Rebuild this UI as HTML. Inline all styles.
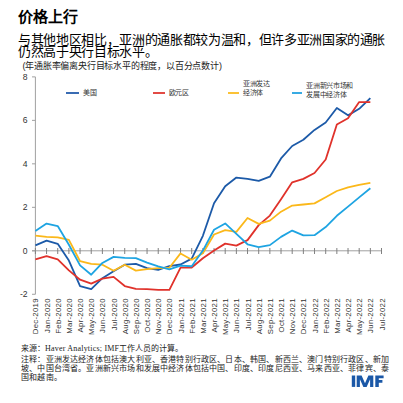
<!DOCTYPE html>
<html lang="zh-CN"><head><meta charset="utf-8"><style>
html,body{margin:0;padding:0;background:#fff;width:403px;height:403px;overflow:hidden}
body{position:relative;font-family:"Liberation Sans",sans-serif;color:#000}
.a{position:absolute;white-space:nowrap}
#title{left:18px;top:7.6px;font-size:15px;font-weight:bold;line-height:18px}
#sub{left:18px;top:33.5px;font-size:13px;letter-spacing:-0.34px;line-height:12.3px;color:#000;font-weight:500}
#unit{left:22.5px;top:60.6px;font-size:9px;letter-spacing:-0.2px;line-height:11px;color:#222}
.leg{font-size:7px;letter-spacing:-0.3px;line-height:8.9px;color:#333}
.ll{position:absolute;height:2px}
.nt{left:21px;font-size:8px;line-height:10px;color:#222;font-weight:500}
#imf{left:350px;top:372px;font-size:15px;font-weight:bold;color:#1f4e9a;letter-spacing:0px}
svg{position:absolute;left:0;top:0}
</style></head><body>
<div class="a" id="title">价格上行</div>
<div class="a" id="sub">与其他地区相比，亚洲的通胀都较为温和，但许多亚洲国家的通胀<br>仍然高于央行目标水平。</div>
<div class="a" id="unit">(年通胀率偏离央行目标水平的程度，以百分点数计)</div>
<svg width="403" height="403" viewBox="0 0 403 403">
<g stroke="#a0a0a0" stroke-width="1" fill="none">
<line x1="35.4" y1="76.9" x2="35.4" y2="294.3"/>
<line x1="32" y1="250.8" x2="381.5" y2="250.8"/>
<line x1="35.40" y1="248" x2="35.40" y2="254" stroke="#808080"/><line x1="46.56" y1="248" x2="46.56" y2="254" stroke="#808080"/><line x1="57.73" y1="248" x2="57.73" y2="254" stroke="#808080"/><line x1="68.89" y1="248" x2="68.89" y2="254" stroke="#808080"/><line x1="80.06" y1="248" x2="80.06" y2="254" stroke="#808080"/><line x1="91.22" y1="248" x2="91.22" y2="254" stroke="#808080"/><line x1="102.39" y1="248" x2="102.39" y2="254" stroke="#808080"/><line x1="113.56" y1="248" x2="113.56" y2="254" stroke="#808080"/><line x1="124.72" y1="248" x2="124.72" y2="254" stroke="#808080"/><line x1="135.88" y1="248" x2="135.88" y2="254" stroke="#808080"/><line x1="147.05" y1="248" x2="147.05" y2="254" stroke="#808080"/><line x1="158.22" y1="248" x2="158.22" y2="254" stroke="#808080"/><line x1="169.38" y1="248" x2="169.38" y2="254" stroke="#808080"/><line x1="180.54" y1="248" x2="180.54" y2="254" stroke="#808080"/><line x1="191.71" y1="248" x2="191.71" y2="254" stroke="#808080"/><line x1="202.88" y1="248" x2="202.88" y2="254" stroke="#808080"/><line x1="214.04" y1="248" x2="214.04" y2="254" stroke="#808080"/><line x1="225.20" y1="248" x2="225.20" y2="254" stroke="#808080"/><line x1="236.37" y1="248" x2="236.37" y2="254" stroke="#808080"/><line x1="247.53" y1="248" x2="247.53" y2="254" stroke="#808080"/><line x1="258.70" y1="248" x2="258.70" y2="254" stroke="#808080"/><line x1="269.86" y1="248" x2="269.86" y2="254" stroke="#808080"/><line x1="281.03" y1="248" x2="281.03" y2="254" stroke="#808080"/><line x1="292.19" y1="248" x2="292.19" y2="254" stroke="#808080"/><line x1="303.36" y1="248" x2="303.36" y2="254" stroke="#808080"/><line x1="314.52" y1="248" x2="314.52" y2="254" stroke="#808080"/><line x1="325.69" y1="248" x2="325.69" y2="254" stroke="#808080"/><line x1="336.85" y1="248" x2="336.85" y2="254" stroke="#808080"/><line x1="348.02" y1="248" x2="348.02" y2="254" stroke="#808080"/><line x1="359.18" y1="248" x2="359.18" y2="254" stroke="#808080"/><line x1="370.35" y1="248" x2="370.35" y2="254" stroke="#808080"/><line x1="381.51" y1="248" x2="381.51" y2="254" stroke="#808080"/><line x1="32" y1="76.88" x2="35.4" y2="76.88"/><line x1="32" y1="120.36" x2="35.4" y2="120.36"/><line x1="32" y1="163.84" x2="35.4" y2="163.84"/><line x1="32" y1="207.32" x2="35.4" y2="207.32"/><line x1="32" y1="250.80" x2="35.4" y2="250.80"/><line x1="32" y1="294.28" x2="35.4" y2="294.28"/>
</g>
<g font-family="Liberation Sans, sans-serif" font-size="8.6" fill="#333"><text x="27.6" y="79.88" text-anchor="end">8</text><text x="27.6" y="123.36" text-anchor="end">6</text><text x="27.6" y="166.84" text-anchor="end">4</text><text x="27.6" y="210.32" text-anchor="end">2</text><text x="27.6" y="253.80" text-anchor="end">0</text><text x="27.6" y="297.28" text-anchor="end">-2</text></g>
<g font-family="Liberation Sans, sans-serif" font-size="7.8" letter-spacing="0.27" fill="#333"><text transform="translate(38.40,298.2) rotate(-90)" text-anchor="end">Dec-2019</text><text transform="translate(49.56,298.2) rotate(-90)" text-anchor="end">Jan-2020</text><text transform="translate(60.73,298.2) rotate(-90)" text-anchor="end">Feb-2020</text><text transform="translate(71.89,298.2) rotate(-90)" text-anchor="end">Mar-2020</text><text transform="translate(83.06,298.2) rotate(-90)" text-anchor="end">Apr-2020</text><text transform="translate(94.22,298.2) rotate(-90)" text-anchor="end">May-2020</text><text transform="translate(105.39,298.2) rotate(-90)" text-anchor="end">Jun-2020</text><text transform="translate(116.56,298.2) rotate(-90)" text-anchor="end">Jul-2020</text><text transform="translate(127.72,298.2) rotate(-90)" text-anchor="end">Aug-2020</text><text transform="translate(138.88,298.2) rotate(-90)" text-anchor="end">Sep-2020</text><text transform="translate(150.05,298.2) rotate(-90)" text-anchor="end">Oct-2020</text><text transform="translate(161.22,298.2) rotate(-90)" text-anchor="end">Nov-2020</text><text transform="translate(172.38,298.2) rotate(-90)" text-anchor="end">Dec-2020</text><text transform="translate(183.54,298.2) rotate(-90)" text-anchor="end">Jan-2021</text><text transform="translate(194.71,298.2) rotate(-90)" text-anchor="end">Feb-2021</text><text transform="translate(205.88,298.2) rotate(-90)" text-anchor="end">Mar-2021</text><text transform="translate(217.04,298.2) rotate(-90)" text-anchor="end">Apr-2021</text><text transform="translate(228.20,298.2) rotate(-90)" text-anchor="end">May-2021</text><text transform="translate(239.37,298.2) rotate(-90)" text-anchor="end">Jun-2021</text><text transform="translate(250.53,298.2) rotate(-90)" text-anchor="end">Jul-2021</text><text transform="translate(261.70,298.2) rotate(-90)" text-anchor="end">Aug-2021</text><text transform="translate(272.86,298.2) rotate(-90)" text-anchor="end">Sep-2021</text><text transform="translate(284.03,298.2) rotate(-90)" text-anchor="end">Oct-2021</text><text transform="translate(295.19,298.2) rotate(-90)" text-anchor="end">Nov-2021</text><text transform="translate(306.36,298.2) rotate(-90)" text-anchor="end">Dec-2021</text><text transform="translate(317.52,298.2) rotate(-90)" text-anchor="end">Jan-2022</text><text transform="translate(328.69,298.2) rotate(-90)" text-anchor="end">Feb-2022</text><text transform="translate(339.85,298.2) rotate(-90)" text-anchor="end">Mar-2022</text><text transform="translate(351.02,298.2) rotate(-90)" text-anchor="end">Apr-2022</text><text transform="translate(362.18,298.2) rotate(-90)" text-anchor="end">May-2022</text><text transform="translate(373.35,298.2) rotate(-90)" text-anchor="end">Jun-2022</text><text transform="translate(384.51,298.2) rotate(-90)" text-anchor="end">Jul-2022</text></g>
<g fill="none" stroke-width="1.8" stroke-linejoin="round">
<polyline stroke="#1c5aa8" points="35.40,245.37 46.56,240.58 57.73,243.84 68.89,260.58 80.06,286.02 91.22,289.06 102.39,278.19 113.56,271.24 124.72,264.71 135.88,263.84 147.05,268.19 158.22,269.93 169.38,266.02 180.54,264.50 191.71,258.63 202.88,235.80 214.04,203.19 225.20,186.23 236.37,177.54 247.53,178.84 258.70,180.80 269.86,176.67 281.03,158.41 292.19,146.01 303.36,139.71 314.52,129.93 325.69,122.53 336.85,107.97 348.02,115.36 359.18,108.84 370.35,98.19"/>
<polyline stroke="#e0322b" points="35.40,259.28 46.56,256.24 57.73,259.28 68.89,270.37 80.06,279.71 91.22,283.63 102.39,278.63 113.56,276.89 124.72,286.02 135.88,288.85 147.05,289.06 158.22,289.93 169.38,289.93 180.54,267.54 191.71,267.54 202.88,258.19 214.04,250.58 225.20,243.63 236.37,245.58 247.53,240.15 258.70,225.15 269.86,215.58 281.03,199.28 292.19,182.32 303.36,178.84 314.52,172.97 325.69,159.49 336.85,124.49 348.02,118.19 359.18,102.10 370.35,102.10"/>
<polyline stroke="#fbb81a" points="35.40,235.58 46.56,236.89 57.73,237.32 68.89,239.93 80.06,261.24 91.22,263.84 102.39,264.71 113.56,270.80 124.72,264.71 135.88,270.58 147.05,269.06 158.22,268.19 169.38,267.76 180.54,253.41 191.71,259.71 202.88,253.19 214.04,234.50 225.20,230.15 236.37,231.89 247.53,217.97 258.70,223.84 269.86,220.58 281.03,211.67 292.19,205.58 303.36,204.49 314.52,203.41 325.69,197.32 336.85,191.02 348.02,187.32 359.18,184.93 370.35,182.97"/>
<polyline stroke="#1ea4e2" points="35.40,231.02 46.56,223.62 57.73,226.02 68.89,244.71 80.06,265.37 91.22,274.71 102.39,262.97 113.56,256.89 124.72,257.97 135.88,258.19 147.05,262.54 158.22,266.45 169.38,269.28 180.54,265.58 191.71,266.24 202.88,250.58 214.04,229.71 225.20,223.41 236.37,233.84 247.53,244.28 258.70,247.10 269.86,245.15 281.03,236.89 292.19,230.58 303.36,235.36 314.52,235.15 325.69,227.10 336.85,215.80 348.02,206.67 359.18,197.32 370.35,188.19"/>
</g>
<g fill="#1b58a7"><rect x="351.8" y="375.5" width="3.4" height="11.4"/><path d="M356.7 386.9V375.5H361.6L365 383.2L368.4 375.5H373.3V386.9H370.1V379.2L366.6 386.9H363.4L359.9 379.2V386.9Z"/><path d="M375.3 386.9V375.5H383.6V378.3H378.8V380.1H382.4V382.7H378.8V386.9Z"/></g>
</svg>
<div class="ll" style="left:66px;top:92px;width:13px;background:#3a6cb3"></div>
<div class="a leg" style="left:83px;top:89px">美国</div>
<div class="ll" style="left:153px;top:92px;width:11.5px;background:#e24b45"></div>
<div class="a leg" style="left:168.5px;top:89px">欧元区</div>
<div class="ll" style="left:227.6px;top:92px;width:11px;background:#fbc236"></div>
<div class="a leg" style="left:243px;top:80px">亚洲发达<br>经济体</div>
<div class="ll" style="left:291.8px;top:92px;width:10px;background:#38abe3"></div>
<div class="a leg" style="left:306.3px;top:81.8px">亚洲新兴市场和<br>发展中经济体</div>
<div class="a nt" style="top:343.5px">来源：<span style="font-family:'Liberation Serif',serif;letter-spacing:0.2px">Haver Analytics; IMF</span>工作人员的计算。</div>
<div class="a nt" style="top:354.6px;letter-spacing:0.18px">注释：亚洲发达经济体包括澳大利亚、香港特别行政区、日本、韩国、新西兰、澳门特别行政区、新加</div>
<div class="a nt" style="top:364px;letter-spacing:0.18px">坡、中国台湾省。亚洲新兴市场和发展中经济体包括中国、印度、印度尼西亚、马来西亚、菲律宾、泰</div>
<div class="a nt" style="top:372.6px;letter-spacing:0.18px">国和越南。</div>

</body></html>
